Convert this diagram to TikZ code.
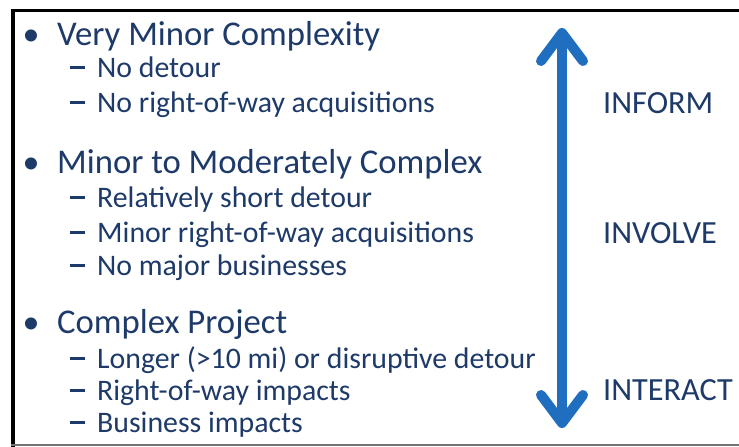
\documentclass[tikz,border=0pt]{standalone}
\usepackage{fontspec}
\setmainfont{Carlito}
\usetikzlibrary{arrows.meta}
\definecolor{txtblue}{RGB}{30,58,105}
\definecolor{arrblue}{RGB}{31,110,192}
\tikzset{
  mainitem/.style={anchor=base west, inner sep=0pt, text=txtblue, font=\fontsize{34.7}{40}\selectfont},
  subitem/.style={anchor=base west, inner sep=0pt, text=txtblue, font=\fontsize{29.8}{35}\selectfont},
  bul/.style={anchor=base, inner sep=0pt, text=txtblue, font=\fontsize{34}{40}\selectfont},
  dsh/.style={anchor=base, inner sep=0pt, text=txtblue, font=\fontsize{29.5}{35}\selectfont},
  level/.style={anchor=base west, inner sep=0pt, text=txtblue, font=\fontsize{32.3}{38}\selectfont},
  bigarrow/.style={draw=arrblue, line width=10pt, {Straight Barb[length=28pt,width=42pt,round]}-{Straight Barb[length=28pt,width=42pt,round]}}
}
\newcommand{\mydash}{\rule[8.5pt]{15pt}{2.2pt}}
\begin{document}
\begin{tikzpicture}[x=1pt,y=-1pt]
\useasboundingbox (0,0) rectangle (739,447);
\fill[white] (0,0) rectangle (739,447);
% frame
\draw[line width=3pt, black] (12,10.5) -- (739,10.5);
\draw[line width=4pt, black] (13,9) -- (13,447);
\draw[line width=1.5pt, black!55] (11,445) -- (739,445);
% group 1
\node[bul] (b1) at (31,45) {•};
\node[mainitem] (m1) at (57,45) {Very Minor Complexity};
\node[dsh] (d11) at (77,77) {\mydash};
\node[subitem] (s11) at (97,77) {No detour};
\node[dsh] (d12) at (77,112) {\mydash};
\node[subitem] (s12) at (97,112) {No right-of-way acquisitions};
% group 2
\node[bul] (b2) at (31,173) {•};
\node[mainitem] (m2) at (57,173) {Minor to Moderately Complex};
\node[dsh] (d21) at (77,207) {\mydash};
\node[subitem] (s21) at (97,207) {Relatively short detour};
\node[dsh] (d22) at (77,242) {\mydash};
\node[subitem] (s22) at (97,242) {Minor right-of-way acquisitions};
\node[dsh] (d23) at (77,275) {\mydash};
\node[subitem] (s23) at (97,275) {No major businesses};
% group 3
\node[bul] (b3) at (31,333) {•};
\node[mainitem] (m3) at (57,333) {Complex Project};
\node[dsh] (d31) at (77,368) {\mydash};
\node[subitem] (s31) at (97,368) {Longer (>10 mi) or disruptive detour};
\node[dsh] (d32) at (77,400) {\mydash};
\node[subitem] (s32) at (97,400) {Right-of-way impacts};
\node[dsh] (d33) at (77,432) {\mydash};
\node[subitem] (s33) at (97,432) {Business impacts};
% levels
\node[level] (inform) at (603,113) {INFORM};
\node[level] (involve) at (603,243) {INVOLVE};
\node[level] (interact) at (603,400) {INTERACT};
% arrow
\coordinate (atop) at (562,28);
\coordinate (abot) at (562,428);
\draw[bigarrow] (atop) -- (abot);
\end{tikzpicture}
\end{document}
